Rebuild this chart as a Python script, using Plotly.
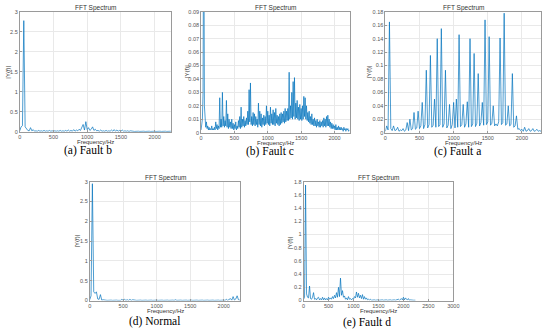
import numpy as np
import plotly.graph_objects as go

W, H = 550, 334

# ---------------- data (amplitudes, one value per frequency bin) ----------------
step_a = 20
amp_a = [0.02, 0.12, 0.15, 2.78, 0.12, 0.06, 0.03, 0.02, 0.10, 0.02,
         0.05, 0.01, 0.02, 0.01, 0.03, 0.01, 0.02, 0.01, 0.03, 0.01,
         0.02, 0.01, 0.03, 0.01, 0.02, 0.01, 0.02, 0.01, 0.02, 0.01,
         0.03, 0.01, 0.02, 0.01, 0.03, 0.01, 0.04, 0.01, 0.03, 0.01,
         0.05, 0.01, 0.04, 0.02, 0.06, 0.03, 0.12, 0.18, 0.04, 0.25,
         0.05, 0.10, 0.03, 0.06, 0.12, 0.03, 0.06, 0.02, 0.03, 0.01,
         0.04, 0.01, 0.02, 0.01, 0.03, 0.01, 0.02, 0.01, 0.04, 0.01,
         0.05, 0.01, 0.04, 0.01, 0.03, 0.01, 0.04, 0.01, 0.02, 0.01,
         0.02, 0.005, 0.02, 0.005, 0.01, 0.005, 0.01, 0.005, 0.01, 0.005,
         0.01, 0.005, 0.01, 0.005, 0.01, 0.005, 0.01, 0.005, 0.01, 0.005,
         0.01, 0.005, 0.01, 0.005, 0.01, 0.005, 0.01, 0.005, 0.01, 0.005,
         0.01, 0.005, 0.01]

step_b = 10
amp_b = [0.002, 0.005, 0.010, 0.030, 0.200, 0.020, 0.007, 0.004, 0.008, 0.003,
         0.005, 0.002, 0.004, 0.002, 0.003, 0.002, 0.005, 0.002, 0.003, 0.002,
         0.004, 0.002, 0.008, 0.003, 0.006, 0.002, 0.005, 0.003, 0.026, 0.004,
         0.010, 0.004, 0.030, 0.005, 0.012, 0.004, 0.009, 0.005, 0.024, 0.004,
         0.014, 0.003, 0.010, 0.004, 0.008, 0.003, 0.010, 0.003, 0.007, 0.002,
         0.006, 0.003, 0.008, 0.002, 0.005, 0.003, 0.009, 0.004, 0.012, 0.003,
         0.019, 0.004, 0.010, 0.005, 0.012, 0.004, 0.009, 0.005, 0.011, 0.006,
         0.016, 0.006, 0.032, 0.008, 0.037, 0.006, 0.012, 0.005, 0.015, 0.006,
         0.014, 0.005, 0.012, 0.006, 0.010, 0.004, 0.022, 0.006, 0.016, 0.005,
         0.014, 0.004, 0.011, 0.006, 0.013, 0.005, 0.012, 0.006, 0.020, 0.007,
         0.016, 0.006, 0.013, 0.005, 0.019, 0.007, 0.014, 0.006, 0.017, 0.006,
         0.015, 0.005, 0.018, 0.007, 0.013, 0.006, 0.012, 0.005, 0.014, 0.006,
         0.015, 0.007, 0.014, 0.008, 0.016, 0.007, 0.018, 0.008, 0.016, 0.009,
         0.018, 0.009, 0.045, 0.010, 0.020, 0.011, 0.030, 0.010, 0.038, 0.012,
         0.041, 0.010, 0.022, 0.011, 0.024, 0.010, 0.019, 0.009, 0.021, 0.010,
         0.018, 0.009, 0.020, 0.010, 0.027, 0.012, 0.026, 0.010, 0.020, 0.009,
         0.015, 0.008, 0.016, 0.007, 0.012, 0.006, 0.014, 0.006, 0.010, 0.005,
         0.011, 0.005, 0.009, 0.004, 0.010, 0.005, 0.008, 0.004, 0.009, 0.004,
         0.008, 0.005, 0.009, 0.004, 0.011, 0.005, 0.010, 0.004, 0.012, 0.005,
         0.013, 0.005, 0.010, 0.004, 0.008, 0.003, 0.007, 0.003, 0.006, 0.003,
         0.005, 0.002, 0.006, 0.002, 0.004, 0.002, 0.005, 0.002, 0.004, 0.002,
         0.004, 0.002, 0.003, 0.001, 0.004, 0.002, 0.003, 0.001, 0.003, 0.002,
         0.003, 0.001, 0.002]

step_c = 20
amp_c = [0.002, 0.010, 0.004, 0.165, 0.006, 0.003, 0.010, 0.003, 0.004, 0.008,
         0.002, 0.004, 0.003, 0.006, 0.002, 0.004, 0.015, 0.003, 0.020, 0.004,
         0.006, 0.030, 0.005, 0.007, 0.032, 0.006, 0.010, 0.045, 0.006, 0.012,
         0.093, 0.007, 0.012, 0.115, 0.008, 0.011, 0.050, 0.008, 0.140, 0.009,
         0.012, 0.155, 0.008, 0.013, 0.093, 0.007, 0.011, 0.042, 0.006, 0.012,
         0.045, 0.007, 0.050, 0.008, 0.146, 0.009, 0.012, 0.042, 0.008, 0.013,
         0.046, 0.008, 0.140, 0.009, 0.013, 0.118, 0.009, 0.014, 0.088, 0.010,
         0.015, 0.045, 0.011, 0.168, 0.012, 0.016, 0.143, 0.011, 0.014, 0.040,
         0.010, 0.013, 0.010, 0.016, 0.141, 0.012, 0.015, 0.178, 0.011, 0.013,
         0.040, 0.010, 0.012, 0.088, 0.008, 0.010, 0.025, 0.005, 0.006, 0.003,
         0.005, 0.002, 0.008, 0.002, 0.003, 0.006, 0.002, 0.003, 0.006, 0.002,
         0.003, 0.005, 0.002, 0.003, 0.002]

step_d = 20
amp_d = [0.02, 0.12, 2.95, 0.22, 0.18, 0.22, 0.04, 0.03, 0.15, 0.01,
         0.02, 0.005, 0.01, 0.005, 0.01, 0.005, 0.01, 0.005, 0.01, 0.005,
         0.01, 0.005, 0.01, 0.005, 0.03, 0.005, 0.03, 0.005, 0.02, 0.005,
         0.03, 0.005, 0.02, 0.005, 0.01, 0.005, 0.01, 0.005, 0.01, 0.005,
         0.01, 0.005, 0.01, 0.005, 0.01, 0.005, 0.01, 0.005, 0.01, 0.005,
         0.01, 0.005, 0.01, 0.005, 0.01, 0.005, 0.01, 0.005, 0.01, 0.005,
         0.01, 0.005, 0.01, 0.005, 0.02, 0.005, 0.01, 0.005, 0.01, 0.005,
         0.01, 0.005, 0.01, 0.005, 0.01, 0.005, 0.01, 0.005, 0.01, 0.005,
         0.01, 0.005, 0.01, 0.005, 0.01, 0.005, 0.01, 0.005, 0.01, 0.005,
         0.01, 0.005, 0.01, 0.005, 0.01, 0.005, 0.01, 0.005, 0.01, 0.005,
         0.01, 0.005, 0.03, 0.005, 0.02, 0.05, 0.01, 0.10, 0.01, 0.04,
         0.12, 0.02, 0.01]

step_e = 20
amp_e = [0.02, 0.05, 1.75, 0.10, 0.05, 0.04, 0.22, 0.03, 0.02, 0.05,
         0.12, 0.02, 0.03, 0.01, 0.04, 0.05, 0.01, 0.03, 0.01, 0.05,
         0.01, 0.04, 0.01, 0.03, 0.01, 0.05, 0.02, 0.04, 0.02, 0.06,
         0.03, 0.08, 0.04, 0.12, 0.05, 0.20, 0.06, 0.34, 0.08, 0.15,
         0.05, 0.07, 0.02, 0.04, 0.01, 0.06, 0.02, 0.03, 0.01, 0.03,
         0.02, 0.06, 0.04, 0.13, 0.05, 0.11, 0.04, 0.08, 0.03, 0.09,
         0.02, 0.06, 0.02, 0.04, 0.01, 0.02, 0.01, 0.02, 0.005, 0.01,
         0.005, 0.01, 0.005, 0.01, 0.005, 0.01, 0.005, 0.01, 0.005, 0.01,
         0.005, 0.01, 0.005, 0.01, 0.005, 0.01, 0.005, 0.01, 0.005, 0.01,
         0.005, 0.01, 0.005, 0.01, 0.005, 0.02, 0.005, 0.02, 0.03, 0.01,
         0.05, 0.01, 0.04, 0.02, 0.01, 0.03, 0.005, 0.01, 0.005, 0.01,
         0.005, 0.005, 0.005]

captions = ["(a) Fault b", "(b) Fault c", "(c) Fault a", "(d) Normal", "(e) Fault d"]

xt_2000 = [0, 500, 1000, 1500, 2000]
xt_3000 = [0, 500, 1000, 1500, 2000, 2500, 3000]
yt_a = [0, 0.5, 1, 1.5, 2, 2.5, 3]
yl_a = ["0", "0.5", "1", "1.5", "2", "2.5", "3"]
yt_b = [0, 0.01, 0.02, 0.03, 0.04, 0.05, 0.06, 0.07, 0.08, 0.09]
yl_b = ["0", "0.01", "0.02", "0.03", "0.04", "0.05", "0.06", "0.07", "0.08", "0.09"]
yt_c = [0, 0.02, 0.04, 0.06, 0.08, 0.1, 0.12, 0.14, 0.16, 0.18]
yl_c = ["0", "0.02", "0.04", "0.06", "0.08", "0.1", "0.12", "0.14", "0.16", "0.18"]
yt_e = [0, 0.2, 0.4, 0.6, 0.8, 1, 1.2, 1.4, 1.6, 1.8]
yl_e = ["0", "0.2", "0.4", "0.6", "0.8", "1", "1.2", "1.4", "1.6", "1.8"]

# ---------------- layout of panels (pixel boxes) ----------------
panels = [
    dict(amp=amp_a, step=step_a, box=(18, 9, 172, 131), xr=2250, xt=xt_2000, yr=3, yt=yt_a, yl=yl_a,
         cap=captions[0], capy=150, capx=87, xlab_y=141.5, ylab=(6, 70)),
    dict(amp=amp_b, step=step_b, box=(202, 9, 353, 132), xr=2230, xt=xt_2000, yr=0.09, yt=yt_b, yl=yl_b,
         cap=captions[1], capy=151, capx=272, xlab_y=142.5, ylab=(187, 70)),
    dict(amp=amp_c, step=step_c, box=(389, 9, 547, 132), xr=2280, xt=xt_2000, yr=0.18, yt=yt_c, yl=yl_c,
         cap=captions[2], capy=151, capx=462, xlab_y=142.5, ylab=(372, 70)),
    dict(amp=amp_d, step=step_d, box=(89, 182, 242, 303), xr=2250, xt=xt_2000, yr=3, yt=yt_a, yl=yl_a,
         cap=captions[3], capy=324.5, capx=155, xlab_y=314, ylab=(76, 242)),
    dict(amp=amp_e, step=step_e, box=(306, 182, 458, 303), xr=3000, xt=xt_3000, yr=1.8, yt=yt_e, yl=yl_e,
         cap=captions[4], capy=325, capx=370, xlab_y=314, ylab=(292, 244)),
]

def fx(px):
    return px / W

def fy(py):
    return 1 - py / H

fig = go.Figure()
layout = dict(width=W, height=H, margin=dict(l=0, r=0, t=0, b=0),
              paper_bgcolor="white", plot_bgcolor="white", showlegend=False,
              font=dict(family="Liberation Sans, Arial, sans-serif", color="#444"))
annotations = []
axis_common = dict(showline=True, mirror=True, linecolor="#9a9a9a", linewidth=0.8,
                   showgrid=True, gridcolor="#e9e9e9", gridwidth=0.6, zeroline=False,
                   ticks="inside", ticklen=2, tickcolor="#9a9a9a",
                   tickfont=dict(size=5.5, color="#555"), fixedrange=True)

for i, p in enumerate(panels, start=1):
    sfx = "" if i == 1 else str(i)
    l, t, r, b = p["box"]
    freq = np.arange(len(p["amp"])) * p["step"]
    fig.add_trace(go.Scatter(x=freq, y=p["amp"], mode="lines",
                             line=dict(color="#0072BD", width=0.7),
                             xaxis="x" + sfx, yaxis="y" + sfx, hoverinfo="skip"))
    layout["xaxis" + sfx] = dict(axis_common, domain=[fx(l), fx(r)], range=[0, p["xr"]],
                                 anchor="y" + sfx, tickvals=p["xt"],
                                 ticktext=[str(v) for v in p["xt"]])
    layout["yaxis" + sfx] = dict(axis_common, domain=[fy(b), fy(t)], range=[0, p["yr"]],
                                 anchor="x" + sfx, tickvals=p["yt"], ticktext=p["yl"])
    cx = (l + r) / 2
    annotations.append(dict(text="FFT Spectrum", x=fx(cx), y=fy(t - 3.5), xref="paper", yref="paper",
                            showarrow=False, font=dict(size=6.5, color="#333"),
                            xanchor="center", yanchor="middle"))
    annotations.append(dict(text="Frequency/Hz", x=fx(cx), y=fy(p["xlab_y"]), xref="paper", yref="paper",
                            showarrow=False, font=dict(size=6, color="#333"),
                            xanchor="center", yanchor="middle"))
    annotations.append(dict(text="|Y(f)|", x=fx(p["ylab"][0]), y=fy(p["ylab"][1]),
                            xref="paper", yref="paper", textangle=-90,
                            showarrow=False, font=dict(size=6, color="#333"),
                            xanchor="center", yanchor="middle"))
    annotations.append(dict(text=p["cap"], x=fx(p["capx"]), y=fy(p["capy"]),
                            xref="paper", yref="paper", showarrow=False,
                            font=dict(size=11.5, color="black",
                                      family="Liberation Serif, Times New Roman, serif"),
                            xanchor="center", yanchor="middle"))

layout["annotations"] = annotations
fig.update_layout(**layout)
fig.write_html("out.html", config={"displayModeBar": False},
               post_script="document.body.style.margin='0px';document.body.style.overflow='hidden';")
